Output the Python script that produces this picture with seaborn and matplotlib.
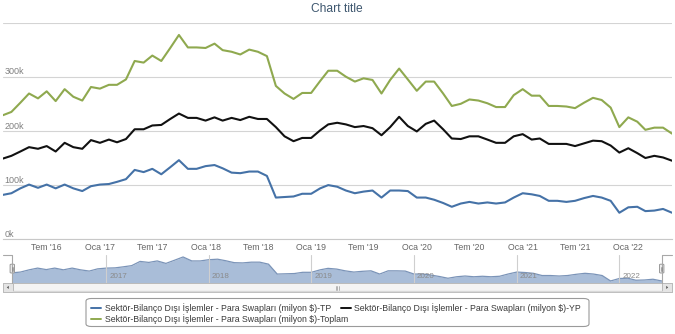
import numpy as np
import pandas as pd
import matplotlib
matplotlib.use("Agg")
import matplotlib.pyplot as plt
import matplotlib.transforms as mtransforms
import matplotlib.dates as mdates
from matplotlib.patches import FancyBboxPatch, Rectangle, Polygon
from matplotlib.lines import Line2D
import seaborn as sns

# ---------------- data (thousands of milyon $) ----------------
months = pd.date_range("2016-02-01", periods=77, freq="MS")

tp = [82, 85, 94, 101, 95, 101, 94, 101, 94, 89, 98, 101, 102, 106, 111, 128, 124, 130, 120, 133,
      146, 130, 130, 135, 137, 131, 123, 122, 125, 125, 117, 77, 78, 79, 84, 84, 94, 100, 97, 90,
      85, 88, 90, 77, 90, 90, 89, 77, 77, 73, 67, 60, 66, 69, 66, 68, 66, 68, 77, 85,
      83, 80, 71, 71, 69, 71, 76, 80, 77, 71, 49, 59, 60, 52, 53, 56, 49]

yp = [149, 154, 162, 170, 167, 172, 162, 178, 170, 167, 183, 178, 184, 179, 185, 203, 203, 210, 211, 222,
      232, 224, 224, 219, 225, 219, 224, 220, 226, 222, 222, 207, 190, 181, 187, 187, 201, 212, 215, 212,
      207, 209, 205, 192, 207, 226, 209, 199, 213, 219, 203, 186, 185, 190, 190, 184, 178, 178, 190, 194,
      184, 186, 176, 176, 176, 172, 177, 182, 181, 173, 160, 168, 159, 150, 154, 151, 145]

toplam = [229, 235, 252, 269, 260, 273, 255, 277, 263, 256, 281, 278, 285, 285, 295, 329, 326, 339, 329, 353,
          377, 354, 354, 353, 361, 349, 346, 341, 350, 346, 338, 283, 269, 259, 270, 270, 292, 311, 311, 300,
          291, 297, 294, 269, 294, 315, 295, 274, 291, 291, 269, 246, 250, 258, 256, 251, 244, 244, 266, 277,
          265, 265, 246, 246, 245, 242, 252, 261, 257, 243, 207, 225, 217, 202, 206, 206, 195]

series_names = [
    "Sektör-Bilanço Dışı İşlemler - Para Swapları (milyon $)-TP",
    "Sektör-Bilanço Dışı İşlemler - Para Swapları (milyon $)-YP",
    "Sektör-Bilanço Dışı İşlemler - Para Swapları (milyon $)-Toplam",
]
series_colors = ["#4572A7", "#111111", "#8FA94F"]

x_tick_dates = ["2016-07-01", "2017-01-01", "2017-07-01", "2018-01-01", "2018-07-01", "2019-01-01",
                "2019-07-01", "2020-01-01", "2020-07-01", "2021-01-01", "2021-07-01", "2022-01-01"]
x_tick_labels = ["Tem '16", "Oca '17", "Tem '17", "Oca '18", "Tem '18", "Oca '19",
                 "Tem '19", "Oca '20", "Tem '20", "Oca '21", "Tem '21", "Oca '22"]
y_ticks = [0, 100, 200, 300, 400]
y_tick_labels = ["0k", "100k", "200k", "300k"]
nav_years = ["2017", "2018", "2019", "2020", "2021", "2022"]
title = "Chart title"

# ---------------- style ----------------
sns.set_theme(style="white")
plt.rcParams["font.family"] = ["Liberation Sans", "DejaVu Sans"]

W, H = 675, 334
fig = plt.figure(figsize=(W / 100, H / 100), dpi=100)
fig.patch.set_facecolor("white")


def rect(x0, y0, x1, y1):
    return [x0 / W, 1 - y1 / H, (x1 - x0) / W, (y1 - y0) / H]


def P(x, y):
    return x / W, 1 - y / H


def fig_line(xs, ys, **kw):
    fx = [x / W for x in xs]
    fy = [1 - y / H for y in ys]
    fig.add_artist(Line2D(fx, fy, transform=fig.transFigure, **kw))


# ---------------- main chart ----------------
ax = fig.add_axes(rect(3, 22.5, 672, 239.3))
df = pd.DataFrame({
    "date": np.tile(months, 3),
    "value": np.concatenate([tp, yp, toplam]),
    "series": np.repeat(series_names, len(months)),
})
sns.lineplot(data=df, x="date", y="value", hue="series", hue_order=series_names,
             palette=series_colors, linewidth=1.5, ax=ax, legend=False)
ax.set_xlim(months[0], months[-1])
ax.set_ylim(0, 400)
ax.set_xlabel("")
ax.set_ylabel("")
ax.set_yticks(y_ticks)
ax.yaxis.grid(True, color="#D4D4D4", linewidth=0.8)
ax.xaxis.grid(False)
ax.tick_params(axis="y", length=0, labelleft=False)
for s in ["top", "left", "right"]:
    ax.spines[s].set_visible(False)
ax.spines["bottom"].set_color("#C8C8C8")
ax.spines["bottom"].set_linewidth(0.8)
ax.set_xticks(pd.to_datetime(x_tick_dates))
ax.set_xticklabels(x_tick_labels)
ax.tick_params(axis="x", length=4, width=0.7, color="#C0D0E0", direction="out",
               pad=-1.0, labelsize=6.3, labelcolor="#666666")

blend = mtransforms.blended_transform_factory(ax.transAxes, ax.transData)
for v, lab in zip(y_ticks, y_tick_labels):
    ax.annotate(lab, xy=(0, v), xycoords=blend, xytext=(1.0, 1.6), textcoords="offset points",
                ha="left", va="baseline", fontsize=6.5, color="#808080")

# ---------------- title ----------------
ttl = fig.text(*P(337, 8.5), title, ha="center", va="center", fontsize=9, color="#3E576F")

# ---------------- navigator ----------------
nav = fig.add_axes(rect(12.3, 254.5, 661.7, 282.7))
nav_lo = 42
nav.fill_between(months, tp, nav_lo, color="#A9BDD8", linewidth=0, zorder=1)
sns.lineplot(x=months, y=tp, ax=nav, color="#7B94B8", linewidth=0.9, zorder=2)
nav.set_xlim(months[0], months[-1])
nav.set_ylim(nav_lo, 156)
year_dates = pd.to_datetime([y + "-01-01" for y in nav_years])
nav.set_xticks(year_dates)
nav.set_yticks([])
nav.set_xlabel("")
nav.set_ylabel("")
nav.tick_params(axis="x", length=0, labelbottom=False)
nav.xaxis.grid(True, color="#CFCFCF", linewidth=0.8, zorder=3)
nav.set_axisbelow(False)
for s in nav.spines.values():
    s.set_visible(False)
nav.patch.set_alpha(0)
nblend = mtransforms.blended_transform_factory(nav.transData, nav.transAxes)
for d, lab in zip(year_dates, nav_years):
    nav.annotate(lab, xy=(mdates.date2num(d), 0), xycoords=nblend, xytext=(2.2, 1.8),
                 textcoords="offset points", ha="left", va="bottom", fontsize=5.8, color="#8A8A8A")

# navigator outline
fig_line([3, 12.3, 12.3], [254.5, 254.5, 282.7], color="#A8A8A8", linewidth=0.8)
fig_line([661.7, 661.7, 672], [282.7, 254.5, 254.5], color="#A8A8A8", linewidth=0.8)
# handles
for hx in (12.3, 661.7):
    fig.add_artist(FancyBboxPatch(P(hx - 2.2, 273), 4.4 / W, 8.8 / H,
                                  boxstyle="round,pad=0,rounding_size=0.002",
                                  transform=fig.transFigure, facecolor="#EDEDED",
                                  edgecolor="#9A9A9A", linewidth=0.7))
    fig_line([hx - 0.7, hx - 0.7], [266.5, 270.5], color="#888888", linewidth=0.5)
    fig_line([hx + 0.7, hx + 0.7], [266.5, 270.5], color="#888888", linewidth=0.5)

# ---------------- scrollbar ----------------
fig.add_artist(Rectangle(P(3, 291.7), 669 / W, 8.4 / H, transform=fig.transFigure,
                         facecolor="#EEEEEE", edgecolor="#BBBBBB", linewidth=0.7))
fig.add_artist(Rectangle(P(12.5, 291.7), 649.5 / W, 8.4 / H, transform=fig.transFigure,
                         facecolor="#F4F4F4", edgecolor="#BBBBBB", linewidth=0.7))
fig_line([12.5, 662], [290.5, 290.5], color="#D8D8D8", linewidth=1.0)
for bx0 in (3, 662):
    fig.add_artist(Rectangle(P(bx0, 291.7), 10 / W, 8.4 / H, transform=fig.transFigure,
                             facecolor="#E4E4E4", edgecolor="#BBBBBB", linewidth=0.7))
fig.add_artist(Polygon([P(6.8, 287.4), P(8.8, 285.8), P(8.8, 289.0)], closed=True,
                       transform=fig.transFigure, facecolor="#555555", edgecolor="none"))
fig.add_artist(Polygon([P(668.2, 287.4), P(666.2, 285.8), P(666.2, 289.0)], closed=True,
                       transform=fig.transFigure, facecolor="#555555", edgecolor="none"))
for gx in (335.5, 337.0, 338.5):
    fig_line([gx, gx], [285.5, 289.5], color="#999999", linewidth=0.5)

# ---------------- legend ----------------
fig.add_artist(FancyBboxPatch(P(86, 326.5), 503 / W, 28 / H,
                              boxstyle="round,pad=0,rounding_size=0.008",
                              transform=fig.transFigure, facecolor="white",
                              edgecolor="#9A9A9A", linewidth=0.8))
leg_pos = [(90.8, 105.2, 308.2), (340.5, 354.3, 308.2), (90.8, 105.2, 318.6)]
renderer = fig.canvas.get_renderer()
leg_texts = []
for (sx, tx, ty), name, col in zip(leg_pos, series_names, series_colors):
    fig_line([sx, sx + 10.2], [ty, ty], color=col, linewidth=1.4)
    t = fig.text(*P(tx, ty), name, ha="left", va="center", fontsize=6.0, color="#3A3A3A")
    leg_texts.append(t)

# fit legend text size to the reference width of the TP entry (~229 px)
w0 = leg_texts[0].get_window_extent(renderer).width
scale = 229.0 / w0
for t in leg_texts:
    t.set_fontsize(6.0 * scale)
wt = ttl.get_window_extent(renderer).width
ttl.set_fontsize(9 * 52.0 / wt)

fig.savefig("out.png", dpi=100, facecolor="white")
